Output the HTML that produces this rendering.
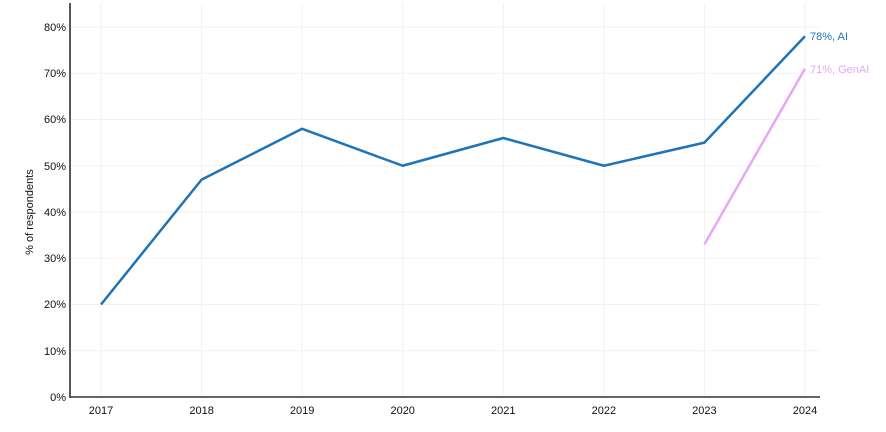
<!DOCTYPE html>
<html><head><meta charset="utf-8"><style>
body{margin:0;background:#fff;}
svg text{font-family:"Liberation Sans",sans-serif;}
</style></head><body>
<svg width="886" height="427" viewBox="0 0 886 427" xmlns="http://www.w3.org/2000/svg">
<g stroke="#f2f2f2" stroke-width="1">
<line x1="71" y1="27" x2="820" y2="27"/><line x1="71" y1="73.25" x2="820" y2="73.25"/><line x1="71" y1="119.5" x2="820" y2="119.5"/><line x1="71" y1="165.75" x2="820" y2="165.75"/><line x1="71" y1="212" x2="820" y2="212"/><line x1="71" y1="258.25" x2="820" y2="258.25"/><line x1="71" y1="304.5" x2="820" y2="304.5"/><line x1="71" y1="350.75" x2="820" y2="350.75"/>
<line x1="101" y1="3" x2="101" y2="397"/><line x1="201.6" y1="3" x2="201.6" y2="397"/><line x1="302.1" y1="3" x2="302.1" y2="397"/><line x1="402.7" y1="3" x2="402.7" y2="397"/><line x1="503.3" y1="3" x2="503.3" y2="397"/><line x1="603.9" y1="3" x2="603.9" y2="397"/><line x1="704.4" y1="3" x2="704.4" y2="397"/><line x1="805" y1="3" x2="805" y2="397"/>
</g>
<line x1="70" y1="3" x2="70" y2="398" stroke="#222" stroke-width="1.5"/>
<line x1="70" y1="397" x2="820" y2="397" stroke="#333" stroke-width="1.5"/>
<g font-size="11" fill="#111" text-anchor="end">
<text x="66" y="31">80%</text><text x="66" y="77">70%</text><text x="66" y="123">60%</text><text x="66" y="170">50%</text><text x="66" y="216">40%</text><text x="66" y="262">30%</text><text x="66" y="308">20%</text><text x="66" y="355">10%</text><text x="66" y="401">0%</text>
</g>
<g font-size="11" fill="#111" text-anchor="middle">
<text x="101" y="414">2017</text><text x="201.6" y="414">2018</text><text x="302.1" y="414">2019</text><text x="402.7" y="414">2020</text><text x="503.3" y="414">2021</text><text x="603.9" y="414">2022</text><text x="704.4" y="414">2023</text><text x="805" y="414">2024</text>
</g>
<text transform="translate(33,212) rotate(-90)" font-size="11" fill="#111" text-anchor="middle">% of respondents</text>
<polyline fill="none" stroke="#1f73b7" stroke-width="2.5" stroke-linejoin="round" points="101,304.5 201.6,179.6 302.1,128.8 402.7,165.75 503.3,138 603.9,165.75 704.4,142.6 805,36.25"/>
<polyline fill="none" stroke="#e8a6f7" stroke-width="2.5" points="704.4,244.4 805,68.6"/>
<text x="810" y="40" font-size="11" fill="#1f73b7">78%, AI</text>
<text x="810" y="73" font-size="11" fill="#e8a6f7">71%, GenAI</text>
</svg>
</body></html>
